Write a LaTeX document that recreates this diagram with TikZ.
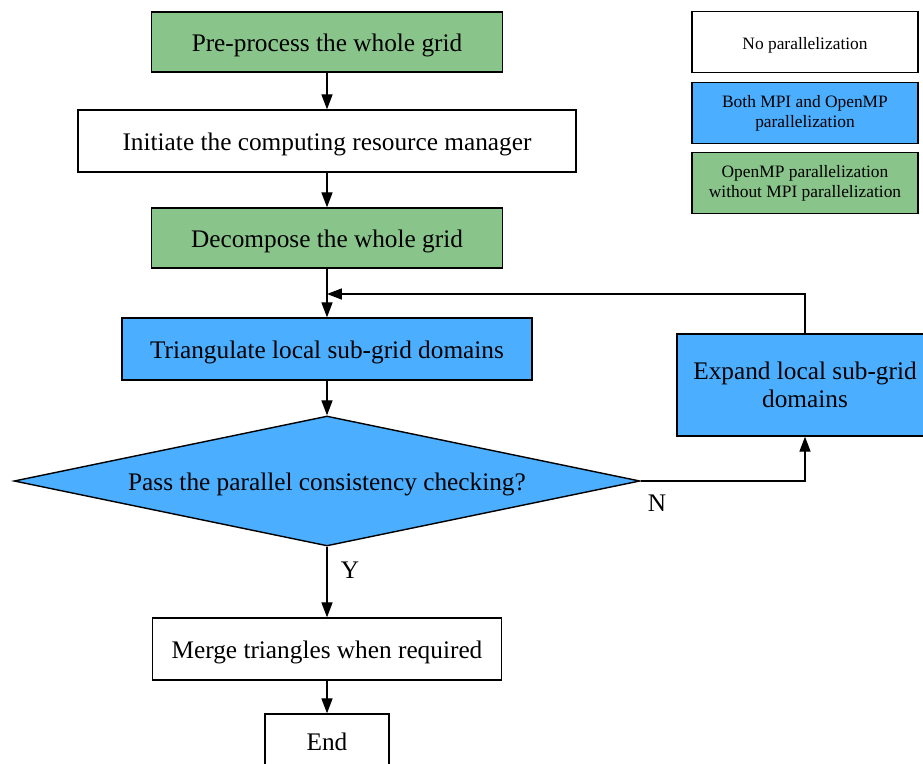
\documentclass[tikz,border=0pt]{standalone}
\usepackage{fontspec}
\setmainfont{Liberation Serif}
\usetikzlibrary{arrows.meta,shapes.geometric}
\definecolor{ompgreen}{RGB}{137,196,138}
\definecolor{mpiblue}{RGB}{75,174,255}

\begin{document}
\begin{tikzpicture}[x=0.02cm,y=-0.02cm,
        box/.style={draw,line width=0.8pt,inner sep=0pt,align=center,font=\fontsize{14.4}{16}\selectfont},
        oneline/.style={text height=13.5pt,text depth=2.7pt},
        keybox/.style={draw,line width=0.8pt,inner sep=0pt,minimum width=4.52cm,minimum height=1.22cm,align=center,font=\fontsize{9.9}{11.3}\selectfont},
        flow/.style={line width=0.7pt,-{Triangle[length=8.5pt,width=6.3pt]}},
        mark label/.style={font=\fontsize{14.4}{16}\selectfont}]
        \clip (0,0) rectangle (923,764);
        \node (pre) [box,oneline,fill=ompgreen,minimum width=7.02cm,minimum height=1.2cm] at (327,42) {Pre-process the whole grid};
        \node (init) [box,oneline,fill=white,minimum width=9.96cm,minimum height=1.24cm] at (327,141) {Initiate the computing resource manager};
        \node (dec) [box,oneline,fill=ompgreen,minimum width=7.02cm,minimum height=1.2cm] at (327,238) {Decompose the whole grid};
        \node (tri) [box,oneline,fill=mpiblue,minimum width=8.2cm,minimum height=1.24cm] at (327,349) {Triangulate local sub-grid domains};
        \node (chk) [box,oneline,diamond,aspect=4.8,fill=mpiblue,minimum width=12.52cm,minimum height=2.6cm] at (327,481) {Pass the parallel consistency checking?};
        \node (exp) [box,fill=mpiblue,minimum width=5.12cm,minimum height=2.04cm] at (805,385) {Expand local sub-grid\\domains};
        \node (mrg) [box,oneline,fill=white,minimum width=6.98cm,minimum height=1.24cm] at (327,649) {Merge triangles when required};
        \node (end) [box,oneline,fill=white,minimum width=2.48cm,minimum height=1.08cm] at (327,741) {End};
        \node (k0) [keybox,text height=10pt,text depth=2pt,fill=white] at (805,42) {No parallelization};
        \node (k1) [keybox,fill=mpiblue] at (805,113) {Both MPI and OpenMP\\parallelization};
        \node (k2) [keybox,fill=ompgreen] at (805,183) {OpenMP parallelization\\without MPI parallelization};
        \node (yes) [mark label] at (350,570) {Y};
        \node (no) [mark label] at (657,503) {N};
        \coordinate (back) at (327,294);
        \draw[flow] (pre) -- (init);
        \draw[flow] (init) -- (dec);
        \draw[flow] (dec) -- (tri);
        \draw[flow] (tri) -- (chk);
        \draw[flow] (chk.east) -| (exp.south);
        \draw[flow] (exp.north) |- (back);
        \draw[flow] (chk) -- (mrg);
        \draw[flow] (mrg) -- (end);
\end{tikzpicture}
\end{document}
